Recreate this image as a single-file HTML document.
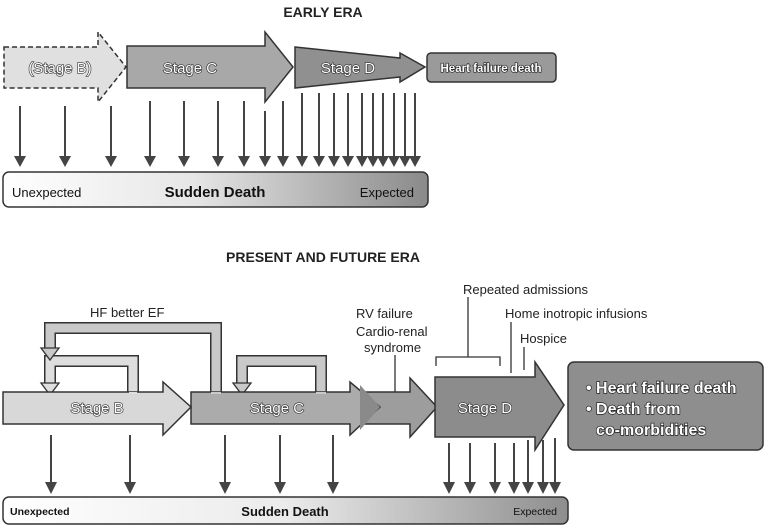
<!DOCTYPE html>
<html><head><meta charset="utf-8"><style>
body{margin:0;background:#fff}
text{font-family:"Liberation Sans",Arial,sans-serif}
</style></head><body>
<svg width="770" height="527" viewBox="0 0 770 527" xmlns="http://www.w3.org/2000/svg">
<defs>
<linearGradient id="bar" x1="0" x2="1"><stop offset="0" stop-color="#fff"/><stop offset="0.45" stop-color="#e6e6e6"/><stop offset="1" stop-color="#8a8a8a"/></linearGradient>
<linearGradient id="bar2" x1="0" x2="1"><stop offset="0" stop-color="#fff"/><stop offset="0.5" stop-color="#ebebeb"/><stop offset="1" stop-color="#8e8e8e"/></linearGradient>
</defs>
<!-- EARLY ERA -->
<text x="323" y="17" font-size="14" font-weight="bold" text-anchor="middle" fill="#222">EARLY ERA</text>
<polygon points="4,47 98,47 98,32 126,67 98,102 98,88 4,88" fill="#e0e0e0" stroke="#333" stroke-width="1.5" stroke-dasharray="5,3"/>
<text x="60" y="73" font-size="15" text-anchor="middle" fill="#fff" stroke="#333" stroke-width="1.3" paint-order="stroke">(Stage B)</text>
<polygon points="127,46 265,46 265,32 293,67 265,102 265,88 127,88" fill="#a8a8a8" stroke="#333" stroke-width="1.5"/>
<text x="190" y="73" font-size="15" text-anchor="middle" fill="#fff" stroke="#333" stroke-width="1.3" paint-order="stroke">Stage C</text>
<polygon points="295,47 400,58 400,53 425,67 400,82 400,77 295,88" fill="#909090" stroke="#333" stroke-width="1.5"/>
<text x="348" y="73" font-size="15" text-anchor="middle" fill="#fff" stroke="#333" stroke-width="1.3" paint-order="stroke">Stage D</text>
<rect x="427" y="53" width="129" height="29" rx="4" fill="#9a9a9a" stroke="#333" stroke-width="1.5"/>
<text x="491" y="72" font-size="11.5" font-weight="bold" text-anchor="middle" fill="#fff" stroke="#222" stroke-width="1.3" paint-order="stroke">Heart failure death</text>
<g fill="#444" stroke="#444" stroke-width="2">
<path d="M20,106V160M65,106V160M111,106V160M150,101V160M184,101V160M218,101V160M244,101V160M265,111V160M283,101V160M302,93V160M319,93V160M334,93V160M348,93V160M362,93V160M373,93V160M383,93V160M394,93V160M405,93V160M415,93V160"/>
</g>
<g fill="#444">
<polygon points="14,156 26,156 20,167"/><polygon points="59,156 71,156 65,167"/><polygon points="105,156 117,156 111,167"/><polygon points="144,156 156,156 150,167"/><polygon points="178,156 190,156 184,167"/><polygon points="212,156 224,156 218,167"/><polygon points="238,156 250,156 244,167"/><polygon points="259,156 271,156 265,167"/><polygon points="277,156 289,156 283,167"/><polygon points="296,156 308,156 302,167"/><polygon points="313,156 325,156 319,167"/><polygon points="328,156 340,156 334,167"/><polygon points="342,156 354,156 348,167"/><polygon points="356,156 368,156 362,167"/><polygon points="367,156 379,156 373,167"/><polygon points="377,156 389,156 383,167"/><polygon points="388,156 400,156 394,167"/><polygon points="399,156 411,156 405,167"/><polygon points="409,156 421,156 415,167"/>
</g>
<rect x="3" y="172" width="425" height="35" rx="6" fill="url(#bar)" stroke="#333" stroke-width="1.5"/>
<text x="12" y="197" font-size="13" fill="#111">Unexpected</text>
<text x="215" y="197" font-size="15" font-weight="bold" text-anchor="middle" fill="#111">Sudden Death</text>
<text x="414" y="197" font-size="13" text-anchor="end" fill="#111">Expected</text>

<!-- PRESENT ERA -->
<text x="323" y="262" font-size="14" font-weight="bold" text-anchor="middle" fill="#222">PRESENT AND FUTURE ERA</text>
<text x="90" y="317" font-size="13" fill="#222">HF better EF</text>
<text x="356" y="318" font-size="13" fill="#222">RV failure</text>
<text x="356" y="336" font-size="13" fill="#222">Cardio-renal</text>
<text x="364" y="352" font-size="13" fill="#222">syndrome</text>
<text x="463" y="294" font-size="13" fill="#222">Repeated admissions</text>
<text x="505" y="318" font-size="13" fill="#222">Home inotropic infusions</text>
<text x="520" y="343" font-size="13" fill="#222">Hospice</text>
<g stroke="#333" stroke-width="1.3" fill="none">
<path d="M395,355V405"/>
<path d="M468,297V357M436,366V357H500V366"/>
<path d="M511,322V373"/>
<path d="M524,347V370"/>
</g>
<g fill="none" stroke-linejoin="miter">
<path d="M50,352V328H216V394" stroke="#333" stroke-width="12"/>
<path d="M50,352V328H216V394" stroke="#c9c9c9" stroke-width="9"/>
<path d="M50,388V361H133V394" stroke="#333" stroke-width="12"/>
<path d="M50,388V361H133V394" stroke="#dedede" stroke-width="9"/>
<path d="M242,388V361H321V394" stroke="#333" stroke-width="12"/>
<path d="M242,388V361H321V394" stroke="#c9c9c9" stroke-width="9"/>
</g>
<polygon points="41,348 59,348 50,360" fill="#c9c9c9" stroke="#333" stroke-width="1.3"/>
<polygon points="41,383 59,383 50,395" fill="#dedede" stroke="#333" stroke-width="1.3"/>
<polygon points="233,383 251,383 242,395" fill="#c9c9c9" stroke="#333" stroke-width="1.3"/>
<polygon points="363,392 410,392 410,378 437,407 410,437 410,424 363,424" fill="#9d9d9d" stroke="#333" stroke-width="1.5"/>
<polygon points="191,392 350,392 350,382 380,407 350,435 350,424 191,424" fill="#ababab" stroke="#333" stroke-width="1.5"/>
<polygon points="360,385 380,407 360,430" fill="#8a8a8a"/>
<polygon points="3,392 163,392 163,382 191,407 163,435 163,424 3,424" fill="#d8d8d8" stroke="#333" stroke-width="1.5"/>
<rect x="129" y="392" width="8" height="2" fill="#dedede"/>
<rect x="211" y="392" width="10" height="2" fill="#c9c9c9"/>
<rect x="316" y="392" width="10" height="2" fill="#c9c9c9"/>
<text x="97" y="413" font-size="15" text-anchor="middle" fill="#fff" stroke="#333" stroke-width="1.3" paint-order="stroke">Stage B</text>
<text x="277" y="413" font-size="15" text-anchor="middle" fill="#fff" stroke="#333" stroke-width="1.3" paint-order="stroke">Stage C</text>
<polygon points="435,377 535,377 535,362 564,405 535,450 535,437 435,437" fill="#8c8c8c" stroke="#333" stroke-width="1.5"/>
<text x="485" y="413" font-size="15" text-anchor="middle" fill="#fff" stroke="#333" stroke-width="1.3" paint-order="stroke">Stage D</text>
<rect x="568" y="362" width="195" height="88" rx="6" fill="#8e8e8e" stroke="#333" stroke-width="1.5"/>
<g font-size="16" font-weight="bold" fill="#fff" stroke="#222" stroke-width="1.4" paint-order="stroke">
<text x="586" y="393">• Heart failure death</text>
<text x="586" y="414">• Death from</text>
<text x="596" y="435">co-morbidities</text>
</g>
<g stroke="#444" stroke-width="2">
<path d="M51,435V485M130,435V485M225,435V485M280,435V485M333,435V485M449,443V485M470,443V485M495,443V485M514,443V485M528,440V485M543,440V485M555,438V485"/>
</g>
<g fill="#444">
<polygon points="45,482 57,482 51,494"/><polygon points="124,482 136,482 130,494"/><polygon points="219,482 231,482 225,494"/><polygon points="274,482 286,482 280,494"/><polygon points="327,482 339,482 333,494"/><polygon points="443,482 455,482 449,494"/><polygon points="464,482 476,482 470,494"/><polygon points="489,482 501,482 495,494"/><polygon points="508,482 520,482 514,494"/><polygon points="522,482 534,482 528,494"/><polygon points="537,482 549,482 543,494"/><polygon points="549,482 561,482 555,494"/>
</g>
<rect x="3" y="497" width="565" height="27" rx="6" fill="url(#bar2)" stroke="#333" stroke-width="1.5"/>
<text x="10" y="515" font-size="10.5" font-weight="bold" fill="#111">Unexpected</text>
<text x="285" y="516" font-size="13" font-weight="bold" text-anchor="middle" fill="#111">Sudden Death</text>
<text x="557" y="515" font-size="10.5" text-anchor="end" fill="#111">Expected</text>
</svg>
</body></html>
